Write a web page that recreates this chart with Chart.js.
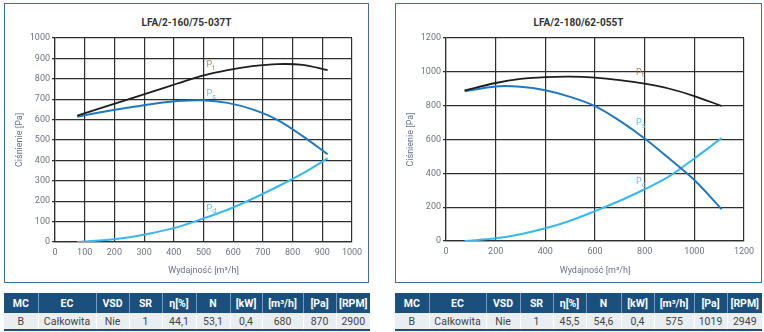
<!DOCTYPE html>
<html>
<head>
<meta charset="utf-8">
<script src="https://cdn.jsdelivr.net/npm/chart.js@4"></script>
<style>
  body { margin: 0; background: #fff; font-family: Roboto, sans-serif; }
  .panel { position: absolute; top: 3px; height: 278px; border: 1px solid #3f6d9b; }
  .panel canvas { position: absolute; left: 0; top: 0; }
  .title { position: absolute; top: 13px; left: 0; right: 0; text-align: center; font: bold 10px Roboto; color: #333; }
  table { position: absolute; top: 293px; border-collapse: collapse; table-layout: fixed; font-family: Roboto; font-size: 10.5px; }
  th { background: #1b4f7d; color: #fff; height: 20px; padding: 0; font-weight: bold; border-left: 1px solid #7d9cbd; }
  td { background: #e9eef3; color: #444; height: 16px; padding: 0; text-align: center; border-left: 1px solid #fff; }
  tr.data { border-bottom: 2px solid #1b4f7d; }
  th:first-child, td:first-child { border-left: none; }
</style>
</head>
<body>

<div class="panel" style="left:4px; width:363px;">
  <div class="title">LFA/2-160/75-037T</div>
  <canvas id="chartA" width="363" height="278"></canvas>
</div>
<div class="panel" style="left:395px; width:365px;">
  <div class="title">LFA/2-180/62-055T</div>
  <canvas id="chartB" width="365" height="278"></canvas>
</div>

<table id="tableA" style="left:4px; width:366px;">
  <colgroup><col style="width:34px"><col style="width:58px"><col style="width:33px"><col style="width:33px"><col style="width:34px"><col style="width:34px"><col style="width:32px"><col style="width:41px"><col style="width:33px"><col style="width:34px"></colgroup>
  <tr><th>MC</th><th>EC</th><th>VSD</th><th>SR</th><th>η[%]</th><th>N</th><th>[kW]</th><th>[m³/h]</th><th>[Pa]</th><th>[RPM]</th></tr>
  <tr class="data"><td>B</td><td>Całkowita</td><td>Nie</td><td>1</td><td>44,1</td><td>53,1</td><td>0,4</td><td>680</td><td>870</td><td>2900</td></tr>
</table>
<table id="tableB" style="left:395px; width:367px;">
  <colgroup><col style="width:34px"><col style="width:57px"><col style="width:34px"><col style="width:33px"><col style="width:33px"><col style="width:35px"><col style="width:33px"><col style="width:40px"><col style="width:33px"><col style="width:35px"></colgroup>
  <tr><th>MC</th><th>EC</th><th>VSD</th><th>SR</th><th>η[%]</th><th>N</th><th>[kW]</th><th>[m³/h]</th><th>[Pa]</th><th>[RPM]</th></tr>
  <tr class="data"><td>B</td><td>Całkowita</td><td>Nie</td><td>1</td><td>45,5</td><td>54,6</td><td>0,4</td><td>575</td><td>1019</td><td>2949</td></tr>
</table>

<script>
// fan LFA/2-160/75-037T
var flowA = [75, 159, 244, 328, 412, 497, 581, 665, 750, 834, 918];
var ptA = [620, 659, 698, 737, 777, 816, 843, 862, 872, 868, 842];
var psA = [614, 637, 658, 677, 691, 695, 682, 650, 598, 519, 430];
var pdA = [0, 8, 22, 44, 73, 114, 158, 212, 272, 336, 410];

// fan LFA/2-180/62-055T
var flowB = [75, 200, 300, 400, 500, 600, 700, 800, 900, 1000, 1110];
var ptB = [890, 934, 958, 969, 972, 966, 951, 930, 900, 857, 798];
var psB = [885, 914, 912, 891, 852, 797, 710, 606, 486, 361, 188];
var pdB = [0, 16, 40, 75, 120, 177, 238, 306, 384, 488, 608];

var tickColor = "#6d7380";
var titleColor = "#65708a";
var gridColor = "#2e2e2e";

function points(q, p) {
  return q.map(function (x, i) { return { x: x, y: p[i] }; });
}

// draws the P_t / P_s / P_d tags next to the curves
var curveTags = {
  id: "curveTags",
  afterDatasetsDraw: function (chart, args, opts) {
    var ctx = chart.ctx;
    var xs = chart.scales.x, ys = chart.scales.y;
    ctx.save();
    ctx.textBaseline = "middle";
    ctx.textAlign = "left";
    opts.tags.forEach(function (t) {
      var px = xs.getPixelForValue(t.x);
      var py = ys.getPixelForValue(t.y);
      ctx.fillStyle = t.color;
      ctx.font = "9px Roboto";
      ctx.fillText("P", px, py);
      var w = ctx.measureText("P").width;
      ctx.font = "7px Roboto";
      ctx.fillText(t.sub, px + w, py + 3);
    });
    ctx.restore();
  },
};

function makeConfig(q, pt, ps, pd, xMax, xStep, yMax, yStep, rightPad, xHeight, tags) {
  return {
    type: "line",
    data: {
      datasets: [
        { label: "Pt", data: points(q, pt), borderColor: "#1e1e1e", borderWidth: 1.8 },
        { label: "Ps", data: points(q, ps), borderColor: "#1f78c1", borderWidth: 2 },
        { label: "Pd", data: points(q, pd), borderColor: "#36b9ee", borderWidth: 2 },
      ],
    },
    options: {
      responsive: false,
      animation: false,
      layout: { padding: { top: 34, right: rightPad, left: 0, bottom: 0 } },
      elements: {
        point: { radius: 0 },
        line: { tension: 0.35, fill: false },
      },
      plugins: {
        legend: { display: false },
        tooltip: { enabled: false },
        curveTags: { tags: tags },
      },
      scales: {
        x: {
          type: "linear",
          min: 0,
          max: xMax,
          afterFit: function (scale) { scale.height = xHeight; },
          grid: { color: gridColor, lineWidth: 1.2, drawTicks: false },
          border: { color: gridColor, width: 1.2 },
          ticks: {
            stepSize: xStep, autoSkip: false, maxRotation: 0, padding: 5, color: tickColor,
            font: { family: "Roboto", size: 9 },
            callback: function (v) { return String(v); },
          },
          title: { display: true, text: "Wydajność [m³/h]", color: titleColor, font: { family: "Roboto", size: 9 }, padding: { top: 4, bottom: 6 } },
        },
        y: {
          min: 0,
          max: yMax,
          afterFit: function (scale) { scale.width = 50; },
          grid: { color: gridColor, lineWidth: 1.2, tickLength: 3 },
          border: { color: gridColor, width: 1.2 },
          ticks: {
            stepSize: yStep, padding: 2, color: tickColor,
            font: { family: "Roboto", size: 9 },
            callback: function (v) { return String(v); },
          },
          title: { display: true, text: "Ciśnienie [Pa]", color: titleColor, font: { family: "Roboto", size: 9 }, padding: { top: 9, bottom: 2 } },
        },
      },
    },
    plugins: [curveTags],
  };
}

var chartA = new Chart(document.getElementById("chartA").getContext("2d"),
  makeConfig(flowA, ptA, psA, pdA, 1000, 100, 1000, 100, 16, 40, [
    { sub: "t", x: 510, y: 868, color: "#a8875a" },
    { sub: "s", x: 510, y: 725, color: "#5bbfee" },
    { sub: "d", x: 510, y: 165, color: "#5bbfee" },
  ]));

var chartB = new Chart(document.getElementById("chartB").getContext("2d"),
  makeConfig(flowB, ptB, psB, pdB, 1200, 200, 1200, 200, 17, 41, [
    { sub: "t", x: 765, y: 995, color: "#a8875a" },
    { sub: "s", x: 765, y: 697, color: "#5bbfee" },
    { sub: "d", x: 765, y: 350, color: "#5bbfee" },
  ]));
</script>
</body>
</html>
